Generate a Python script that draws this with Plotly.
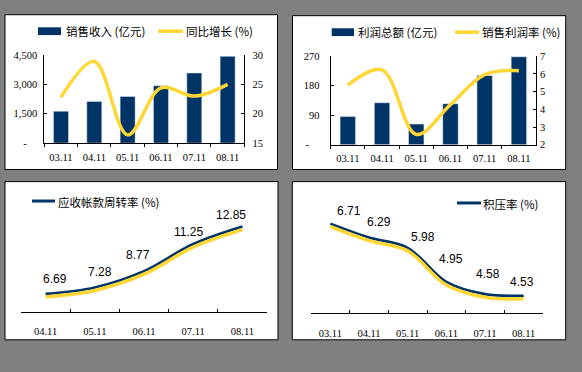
import plotly.graph_objects as go

W, H = 582, 372

# ---------------- data ----------------
periods6 = ["03.11", "04.11", "05.11", "06.11", "07.11", "08.11"]
periods5 = ["04.11", "05.11", "06.11", "07.11", "08.11"]

sales_revenue = [1630, 2130, 2380, 2930, 3580, 4430]      # 销售收入 (亿元)
sales_growth = [22.8, 28.9, 16.4, 24.4, 23.0, 25.0]       # 同比增长 (%)

total_profit = [86, 128, 63, 125, 211, 268]               # 利润总额 (亿元)
profit_margin = [5.36, 6.23, 2.58, 4.26, 5.96, 6.18]      # 销售利润率 (%)

receivable_turnover = [6.69, 7.28, 8.77, 11.25, 12.85]    # 应收帐款周转率 (%)
backlog_rate = [6.71, 6.29, 5.98, 4.95, 4.58, 4.53]        # 积压率 (%)

left_ticks1 = [0, 1500, 3000, 4500]
left_ticktext1 = ["-\u00a0\u00a0\u00a0\u00a0", "1,500", "3,000", "4,500"]
left_ticks2 = [0, 90, 180, 270]
left_ticktext2 = ["-\u00a0\u00a0\u00a0\u00a0", "90", "180", "270"]

# ---------------- style ----------------
NAVY = "#003366"
YELLOW = "#FFD633"
BG = "#808080"
SERIF = "Liberation Serif"
CJK = "Noto Sans CJK SC"
SANS = "Liberation Sans"


def fx(x):
    return x / W


def fy(y):
    return 1 - y / H


fig = go.Figure()

# chart 1
fig.add_trace(go.Bar(x=periods6, y=sales_revenue, marker_color=NAVY, width=0.45,
                     xaxis="x", yaxis="y", showlegend=False))
fig.add_trace(go.Scatter(x=periods6, y=sales_growth, mode="lines",
                         line=dict(color=YELLOW, width=3.5, shape="spline", smoothing=1.0),
                         xaxis="x", yaxis="y2", showlegend=False))
# chart 2
fig.add_trace(go.Bar(x=periods6, y=total_profit, marker_color=NAVY, width=0.45,
                     xaxis="x3", yaxis="y3", showlegend=False))
fig.add_trace(go.Scatter(x=periods6, y=profit_margin, mode="lines",
                         line=dict(color=YELLOW, width=3.5, shape="spline", smoothing=1.0),
                         xaxis="x3", yaxis="y4", showlegend=False))
# chart 3 (shadow on shifted axis, then main line)
fig.add_trace(go.Scatter(x=periods5, y=receivable_turnover, mode="lines",
                         line=dict(color=YELLOW, width=3.5, shape="spline", smoothing=1.0),
                         xaxis="x5", yaxis="y6", showlegend=False))
fig.add_trace(go.Scatter(x=periods5, y=receivable_turnover, mode="lines",
                         line=dict(color=NAVY, width=2.6, shape="spline", smoothing=1.0),
                         xaxis="x5", yaxis="y5", showlegend=False))
# chart 4
fig.add_trace(go.Scatter(x=periods6, y=backlog_rate, mode="lines",
                         line=dict(color=YELLOW, width=3.5, shape="spline", smoothing=1.0),
                         xaxis="x7", yaxis="y8", showlegend=False))
fig.add_trace(go.Scatter(x=periods6, y=backlog_rate, mode="lines",
                         line=dict(color=NAVY, width=2.6, shape="spline", smoothing=1.0),
                         xaxis="x7", yaxis="y7", showlegend=False))

tickfont = dict(family=SERIF, size=10.5, color="black")

xcat = dict(type="category", tickson="boundaries", showline=True, linecolor="black",
            linewidth=1, showgrid=False, zeroline=False, tickcolor="black",
            tickfont=tickfont, fixedrange=True)
ybase = dict(showline=True, linecolor="black", linewidth=1, showgrid=False,
             zeroline=False, ticks="inside", ticklen=3, tickcolor="black",
             tickfont=tickfont, fixedrange=True)

# chart 3 / 4 pixel scale for shadow offset
c3_top, c3_bot = 215.3, 316.7
c3_range = [5, 14]
c3_shift = 3.2 * (c3_range[1] - c3_range[0]) / (c3_bot - c3_top)
c4_top, c4_bot = 215.4, 317.7
c4_range = [4, 7]
c4_shift = 3.2 * (c4_range[1] - c4_range[0]) / (c4_bot - c4_top)

fig.update_layout(
    width=W, height=H,
    margin=dict(l=0, r=0, t=0, b=0),
    paper_bgcolor=BG, plot_bgcolor="rgba(0,0,0,0)",
    bargap=0.55,
    xaxis=dict(xcat, domain=[fx(44.3), fx(244.3)], anchor="y", range=[-0.5, 5.5],
               ticks="outside", ticklen=3, ticklabelstandoff=4),
    yaxis=dict(ybase, domain=[fy(142.3), fy(51.5)], anchor="x", range=[0, 4500],
               tickvals=left_ticks1, ticktext=left_ticktext1, ticklabelstandoff=4),
    yaxis2=dict(ybase, overlaying="y", side="right", anchor="x", range=[15, 30],
                dtick=5, ticklabelstandoff=5),
    xaxis3=dict(xcat, domain=[fx(330.7), fx(536)], anchor="y3", range=[-0.5, 5.5],
                ticks="outside", ticklen=3, ticklabelstandoff=4),
    yaxis3=dict(ybase, domain=[fy(144), fy(52.7)], anchor="x3", range=[0, 270],
                tickvals=left_ticks2, ticktext=left_ticktext2, ticklabelstandoff=8),
    yaxis4=dict(ybase, overlaying="y3", side="right", anchor="x3", range=[2, 7],
                dtick=1, ticklabelstandoff=1),
    xaxis5=dict(xcat, domain=[fx(21), fx(267)], anchor="y5", range=[-0.5, 4.5],
                ticks="inside", ticklen=3, ticklabelstandoff=9),
    yaxis5=dict(domain=[fy(c3_bot), fy(c3_top)], anchor="x5", range=c3_range,
                visible=False, fixedrange=True),
    yaxis6=dict(overlaying="y5", anchor="x5",
                range=[c3_range[0] + c3_shift, c3_range[1] + c3_shift],
                visible=False, fixedrange=True),
    xaxis7=dict(xcat, domain=[fx(311), fx(543)], anchor="y7", range=[-0.5, 5.5],
                ticks="inside", ticklen=3, ticklabelstandoff=10),
    yaxis7=dict(domain=[fy(c4_bot), fy(c4_top)], anchor="x7", range=c4_range,
                visible=False, fixedrange=True),
    yaxis8=dict(overlaying="y7", anchor="x7",
                range=[c4_range[0] + c4_shift, c4_range[1] + c4_shift],
                visible=False, fixedrange=True),
)

# panels
shapes = []
for (x0, y0, x1, y1) in [(5, 10, 277.5, 169.5), (292.5, 11, 565.7, 169.5),
                         (5, 182, 278, 345), (292.3, 182, 565.7, 345)]:
    shapes.append(dict(type="rect", xref="paper", yref="paper",
                       x0=fx(x0), x1=fx(x1), y0=fy(y1), y1=fy(y0),
                       fillcolor="white", line=dict(color="black", width=1),
                       layer="below"))

# legend swatches
def bar_swatch(x0, x1, y0, y1):
    shapes.append(dict(type="rect", xref="paper", yref="paper",
                       x0=fx(x0), x1=fx(x1), y0=fy(y1), y1=fy(y0),
                       fillcolor=NAVY, line=dict(width=0)))


def line_swatch(x0, x1, y, color, width):
    shapes.append(dict(type="line", xref="paper", yref="paper",
                       x0=fx(x0), x1=fx(x1), y0=fy(y), y1=fy(y),
                       line=dict(color=color, width=width)))


bar_swatch(38, 61, 23, 31)
line_swatch(158, 183, 27, YELLOW, 3.5)
bar_swatch(331.7, 354, 24, 32)
line_swatch(455, 479, 28, YELLOW, 3.5)
line_swatch(32, 55, 202, NAVY, 3)
line_swatch(457, 481, 204, NAVY, 3)

annotations = []


def legend_text(x, y, text):
    annotations.append(dict(xref="paper", yref="paper", x=fx(x), y=fy(y),
                            xanchor="left", yanchor="middle", showarrow=False,
                            text=text, font=dict(family=CJK, size=11.5, color="black")))


legend_text(64, 27, "销售收入 (亿元)")
legend_text(184, 27, "同比增长 (%)")
legend_text(356, 28, "利润总额 (亿元)")
legend_text(480, 28, "销售利润率 (%)")
legend_text(56, 203, "应收帐款周转率 (%)")
legend_text(481, 205, "积压率 (%)")

# data labels (x given as category index)
c3_dx = [9, 5, -6, -5, -11]
c3_dy = [15, 15.7, 16.2, 12.5, 11.7]
for i, (v, dx, dy) in enumerate(zip(receivable_turnover, c3_dx, c3_dy)):
    annotations.append(dict(xref="x5", yref="y5", x=i, y=v, text=f"{v:.2f}",
                            showarrow=False, xshift=dx, yshift=dy,
                            font=dict(family=SANS, size=12, color="black")))
c4_dx = [19, 10, 15, 5, 3, -2]
c4_dy = [12.3, 15.6, 10.5, 23.2, 20.4, 13.8]
for i, (v, dx, dy) in enumerate(zip(backlog_rate, c4_dx, c4_dy)):
    annotations.append(dict(xref="x7", yref="y7", x=i, y=v, text=f"{v:.2f}",
                            showarrow=False, xshift=dx, yshift=dy,
                            font=dict(family=SANS, size=12, color="black")))

fig.update_layout(shapes=shapes, annotations=annotations)

fig.write_html("out.html", config={"displayModeBar": False},
               post_script="document.body.style.margin='0';document.body.style.overflow='hidden';")
